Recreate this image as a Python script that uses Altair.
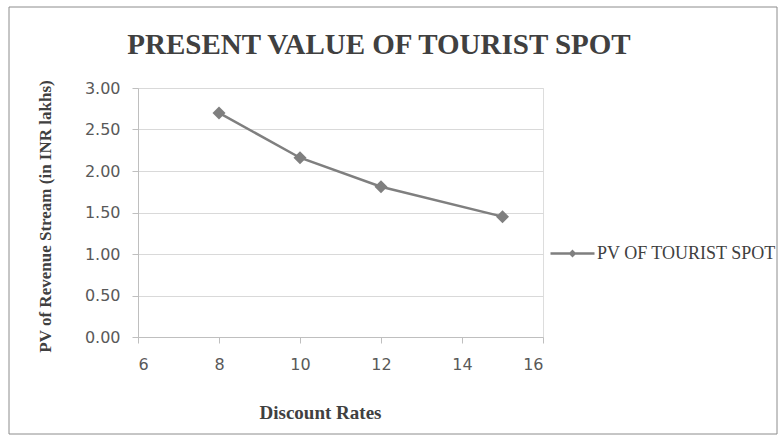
import altair as alt
import pandas as pd

rates = [8, 10, 12, 15]
pv_values = [2.70, 2.16, 1.81, 1.45]
series_name = "PV OF TOURIST SPOT"
x_ticks = [6, 8, 10, 12, 14, 16]
y_ticks = [0, 0.5, 1.0, 1.5, 2.0, 2.5, 3.0]

df = pd.DataFrame({"rate": rates, "pv": pv_values, "series": [series_name] * len(rates)})

GRAY = "#7f7f7f"
SERIF = "Liberation Serif"
SANS = "DejaVu Sans"

line = alt.Chart(df).mark_line(
    strokeWidth=2.5,
    point=alt.OverlayMarkDef(shape="diamond", size=170, filled=True, color=GRAY),
).encode(
    x=alt.X("rate:Q", scale=alt.Scale(domain=[6, 16], nice=False),
            axis=alt.Axis(values=x_ticks, title="Discount Rates", grid=False,
                          domainColor="#bfbfbf", tickColor="#bfbfbf", tickSize=6,
                          labelPadding=13, labelFont=SANS, labelFontSize=16, labelColor="#595959",
                          titleFont=SERIF, titleFontSize=19, titleFontWeight="bold", titleColor="#404040",
                          titleX=182, titleY=75, titleBaseline="middle")),
    y=alt.Y("pv:Q", scale=alt.Scale(domain=[0, 3], nice=False),
            axis=alt.Axis(values=y_ticks, format=".2f", title="PV of Revenue Stream (in INR lakhs)",
                          grid=True, gridColor="#d9d9d9", gridWidth=1.2,
                          domainColor="#bfbfbf", tickColor="#bfbfbf", tickSize=6, labelPadding=12,
                          labelFont=SANS, labelFontSize=16, labelColor="#595959",
                          titleFont=SERIF, titleFontSize=17, titleFontWeight="bold", titleColor="#404040",
                          titleX=-93, titleY=128, titleAngle=270, titleAlign="center",
                          titleBaseline="middle")),
    color=alt.Color("series:N", scale=alt.Scale(range=[GRAY]),
                    legend=alt.Legend(title=None, orient="none", legendX=411, legendY=142,
                                      symbolType="M-1,0L1,0M0,-0.1L0.1,0L0,0.1L-0.1,0Z",
                                      symbolSize=1936, symbolStrokeWidth=2.5,
                                      labelFont=SERIF, labelFontSize=18, labelColor="#404040",
                                      labelLimit=600, labelOffset=1, symbolOffset=0)),
)

text_src = alt.Data(values=[{"t": "PRESENT VALUE OF TOURIST SPOT"}])
title = alt.Chart(text_src).mark_text(
    font=SERIF, fontSize=29, fontWeight="bold", color="#404040", align="center", baseline="middle"
).encode(text="t:N", x=alt.value(241), y=alt.value(-43))

frame = alt.Chart(text_src).mark_rect(filled=False, stroke="#8c8c8c", strokeWidth=1).encode(
    x=alt.value(-129), x2=alt.value(639), y=alt.value(-81), y2=alt.value(346)
)

chart = alt.layer(frame, title, line).properties(
    width=405, height=249,
    autosize=alt.AutoSizeParams(type="none"),
    padding={"left": 138, "top": 88, "right": 240, "bottom": 104},
).configure_view(stroke=None).configure(background="white")

chart.save("out.html", embed_options={"renderer": "svg", "actions": False})
